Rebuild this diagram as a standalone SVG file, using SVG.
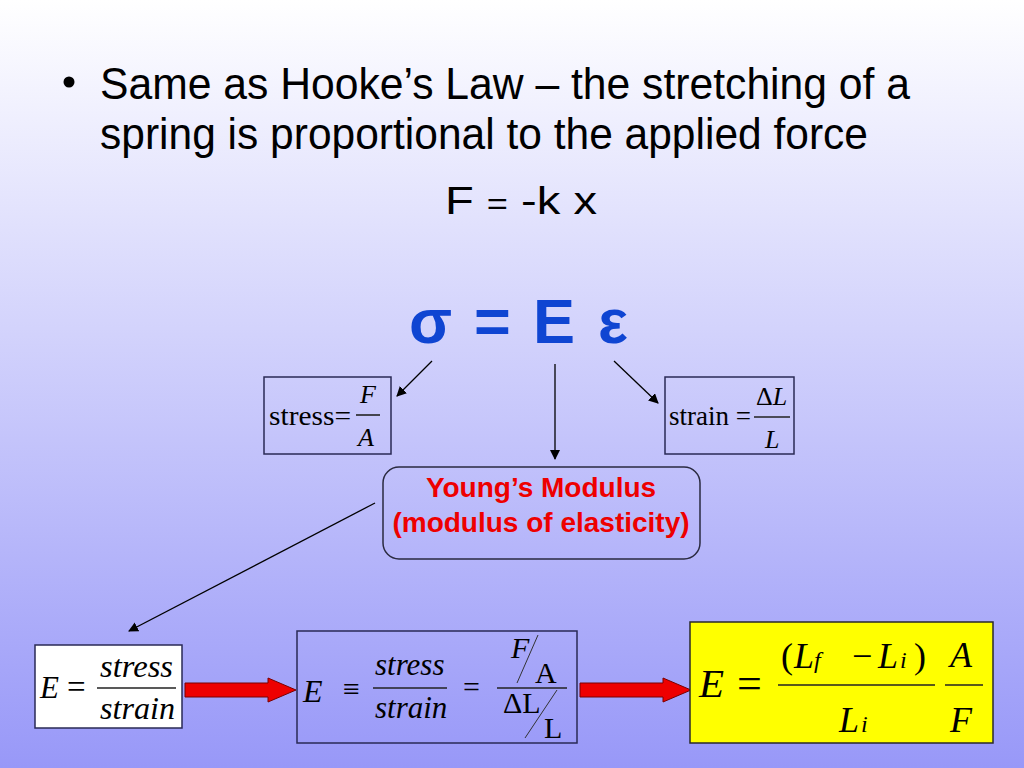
<svg xmlns="http://www.w3.org/2000/svg" width="1024" height="768" viewBox="0 0 1024 768">
<defs>
<linearGradient id="bg" x1="0" y1="0" x2="0" y2="1">
<stop offset="0" stop-color="#ffffff"/>
<stop offset="1" stop-color="#9898f8"/>
</linearGradient>
<marker id="ah" viewBox="0 0 10 10" refX="9" refY="5" markerWidth="10" markerHeight="10" markerUnits="userSpaceOnUse" orient="auto">
<path d="M0,0 L10,5 L0,10 z" fill="#000"/>
</marker>
<path id="bigArrow" d="M0,-7 L83,-7 L83,-12 L111,0 L83,12 L83,7 L0,7 z"/>
</defs>
<style>
.sans{font-family:"Liberation Sans",Arial,sans-serif}
.serif{font-family:"Liberation Serif","Times New Roman",serif}
.it{font-style:italic}
.box{fill:none;stroke:#2a2a55;stroke-width:1.5}
.frac{stroke:#222;stroke-width:1.6}
.conn{stroke:#000;stroke-width:1.3;fill:none;marker-end:url(#ah)}
.red{fill:#ee0000;stroke:#7a0000;stroke-width:1}
</style>
<rect width="1024" height="768" fill="url(#bg)"/>

<g id="intro" class="sans" fill="#000">
<circle cx="69" cy="82" r="5.5"/>
<text x="100" y="99" font-size="44" textLength="810" lengthAdjust="spacingAndGlyphs">Same as Hooke’s Law – the stretching of a</text>
<text x="100" y="149" font-size="44" textLength="768" lengthAdjust="spacingAndGlyphs">spring is proportional to the applied force</text>
<text x="445" y="214" font-size="39" textLength="152" lengthAdjust="spacingAndGlyphs">F <tspan font-size="30">=</tspan> -k x</text>
</g>

<g id="equation" class="sans" font-weight="bold" font-size="63" fill="#0f45d2">
<text x="409" y="343">σ</text>
<text x="474" y="343">=</text>
<text x="533" y="343">E</text>
<text x="598" y="343">ε</text>
</g>

<g id="connectors">
<line class="conn" x1="432" y1="361" x2="397" y2="396"/>
<line class="conn" x1="555" y1="364" x2="555" y2="459"/>
<line class="conn" x1="614" y1="361" x2="658" y2="403"/>
<line class="conn" x1="375" y1="503" x2="129" y2="631"/>
<use href="#bigArrow" class="red" x="185" y="690"/>
<use href="#bigArrow" class="red" x="580" y="690"/>
</g>

<g id="stress">
<rect class="box" x="264" y="377" width="127" height="77"/>
<text class="serif" x="269" y="425" font-size="27" textLength="82" lengthAdjust="spacingAndGlyphs">stress=</text>
<text class="serif it" x="360" y="403" font-size="26">F</text>
<line class="frac" x1="356" y1="415" x2="380" y2="415"/>
<text class="serif it" x="358" y="446" font-size="26">A</text>
</g>

<g id="strain">
<rect class="box" x="665" y="377" width="129" height="77"/>
<text class="serif" x="669" y="425" font-size="27" textLength="82" lengthAdjust="spacingAndGlyphs">strain =</text>
<text class="serif" x="756" y="405" font-size="26">Δ<tspan class="it">L</tspan></text>
<line class="frac" x1="754" y1="417" x2="790" y2="417"/>
<text class="serif it" x="765" y="448" font-size="26">L</text>
</g>

<g id="youngs">
<rect x="383" y="467" width="317" height="92" rx="16" fill="none" stroke="#2a2a40" stroke-width="1.5"/>
<text class="sans" x="541" y="497" font-size="28" font-weight="bold" fill="#ee0000" text-anchor="middle">Young’s Modulus</text>
<text class="sans" x="541" y="532" font-size="28" font-weight="bold" fill="#ee0000" text-anchor="middle">(modulus of elasticity)</text>
</g>

<g id="defn">
<rect x="35" y="645" width="147" height="83" fill="#ffffff" stroke="#2a2a55" stroke-width="1.5"/>
<text class="serif it" x="40" y="698" font-size="31">E</text>
<text class="serif" x="67" y="698" font-size="33">=</text>
<text class="serif it" x="100" y="677" font-size="31" textLength="73" lengthAdjust="spacingAndGlyphs">stress</text>
<line class="frac" x1="97" y1="688" x2="176" y2="688"/>
<text class="serif it" x="100" y="719" font-size="31" textLength="75" lengthAdjust="spacingAndGlyphs">strain</text>
</g>

<g id="expanded">
<rect class="box" x="297" y="631" width="280" height="112"/>
<text class="serif it" x="303" y="702" font-size="32">E</text>
<text class="serif" x="343" y="699" font-size="30">≡</text>
<text class="serif it" x="375" y="675" font-size="31">stress</text>
<line class="frac" x1="373" y1="688" x2="447" y2="688"/>
<text class="serif it" x="375" y="718" font-size="31">strain</text>
<text class="serif" x="463" y="697" font-size="30">=</text>
<line class="frac" x1="497" y1="688" x2="567" y2="688"/>
<text class="serif it" x="511" y="658" font-size="30">F</text>
<line stroke="#333" stroke-width="1" x1="517" y1="683" x2="538" y2="635"/>
<text class="serif" x="535" y="683" font-size="30">A</text>
<text class="serif" x="503" y="713" font-size="30">ΔL</text>
<line stroke="#333" stroke-width="1" x1="525" y1="738" x2="557" y2="690"/>
<text class="serif" x="544" y="738" font-size="30">L</text>
</g>

<g id="result">
<rect x="690" y="622" width="303" height="121" fill="#ffff00" stroke="#2a2a2a" stroke-width="1.5"/>
<text class="serif it" x="699" y="697" font-size="41">E</text>
<text class="serif" x="737" y="698" font-size="44">=</text>
<text class="serif" x="781" y="668" font-size="36">(</text>
<text class="serif it" x="794" y="668" font-size="36">L</text>
<text class="serif it" x="814" y="668" font-size="24">f</text>
<text class="serif" x="852" y="668" font-size="36">−</text>
<text class="serif it" x="878" y="668" font-size="36">L</text>
<text class="serif it" x="900" y="668" font-size="24">i</text>
<text class="serif" x="914" y="668" font-size="36">)</text>
<line class="frac" x1="778" y1="685" x2="935" y2="685"/>
<text class="serif it" x="839" y="732" font-size="36">L</text>
<text class="serif it" x="861" y="732" font-size="24">i</text>
<text class="serif it" x="950" y="667" font-size="36">A</text>
<line class="frac" x1="945" y1="685" x2="983" y2="685"/>
<text class="serif it" x="950" y="732" font-size="36">F</text>
</g>
</svg>
